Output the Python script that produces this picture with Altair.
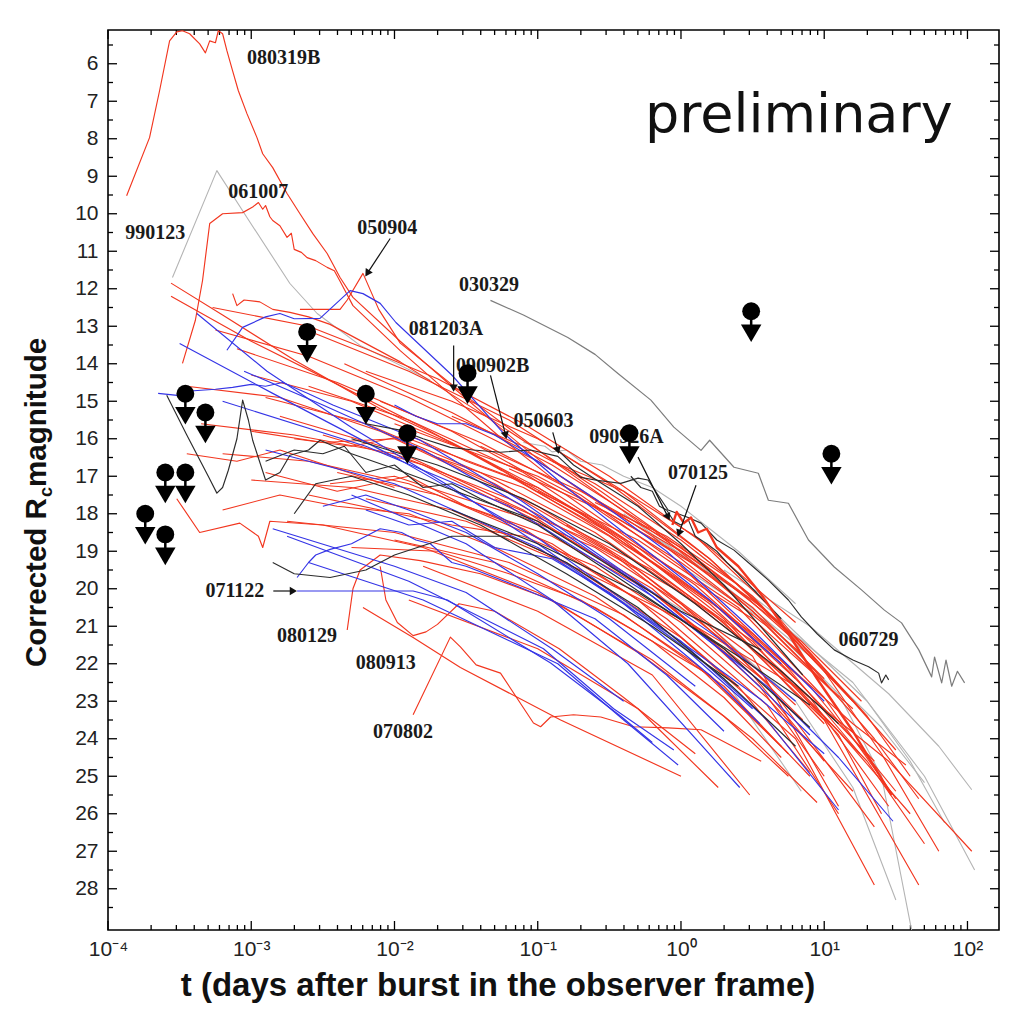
import altair as alt
import pandas as pd

# ---------------- axis tick values ----------------
X_TICK_MAJOR = [1e-4, 1e-3, 1e-2, 1e-1, 1.0, 10.0, 100.0]
X_TICK_MINOR = [k * d for d in X_TICK_MAJOR for k in range(2, 10) if k * d < 166]
Y_TICK_MAJOR = list(range(6, 29))
Y_TICK_MINOR = [v + 0.5 for v in range(5, 29)]

# ---------------- light curves: (log10 t [days], corrected Rc mag) ----------------
# --- red ---
grb080319B = [(-3.87, 9.52), (-3.71, 7.97), (-3.64, 6.72), (-3.57, 5.39), (-3.52, 5.15), (-3.48, 5.12),
              (-3.43, 5.2), (-3.36, 5.47), (-3.32, 5.71), (-3.29, 5.39), (-3.25, 5.44), (-3.23, 5.12),
              (-3.2, 5.2), (-3.17, 5.65), (-3.13, 6.19), (-3.09, 6.72), (-3.03, 7.33), (-2.96, 7.97),
              (-2.92, 8.4), (-2.85, 8.77), (-2.75, 9.46), (-2.66, 10.0), (-2.57, 10.53), (-2.47, 11.06),
              (-2.38, 11.7), (-2.29, 12.23), (-1.96, 13.4), (-1.6, 14.6), (-1.25, 15.75), (-0.9, 16.85),
              (-0.5, 17.9), (0.0, 19.0), (0.45, 20.2), (0.8, 21.4), (1.2, 23.0)]
grb061007 = [(-3.48, 13.99), (-3.39, 12.84), (-3.34, 11.78), (-3.29, 10.26), (-3.2, 10.0), (-3.06, 9.97),
             (-2.99, 9.82), (-2.95, 9.7), (-2.92, 9.88), (-2.9, 9.78), (-2.87, 10.08), (-2.85, 10.18),
             (-2.8, 10.32), (-2.75, 10.63), (-2.72, 10.52), (-2.7, 10.95), (-2.65, 11.03), (-2.61, 11.17),
             (-2.55, 11.25), (-2.47, 11.43), (-2.42, 11.52), (-2.38, 11.8), (-2.29, 12.45), (-1.96, 13.65),
             (-1.6, 14.85), (-1.25, 16.0), (-0.9, 17.05), (-0.5, 18.1), (0.0, 19.3), (0.5, 20.7)]
grb050904 = [(-2.66, 12.55), (-2.38, 12.55), (-2.33, 12.3), (-2.22, 11.59), (-2.11, 12.55), (-1.96, 13.45),
             (-1.47, 14.95), (-0.91, 16.55), (-0.21, 18.45), (0.2, 19.5)]
grb080129 = [(-2.33, 21.1), (-2.29, 20.0), (-2.24, 19.5), (-2.1, 19.1), (-1.82, 19.25), (-1.4, 19.6),
             (-0.9, 20.3), (-0.3, 21.7), (0.3, 23.4), (0.75, 25.0)]
grb080913 = [(-2.1, 19.4), (-2.06, 20.3), (-1.98, 20.9), (-1.87, 21.25), (-1.78, 21.15), (-1.7, 20.95),
             (-1.55, 20.4), (-1.3, 20.6), (-0.85, 21.6), (-0.4, 22.9), (0.1, 24.4)]
grb070802 = [(-1.87, 23.36), (-1.61, 21.29), (-1.54, 21.55), (-1.43, 22.03), (-1.26, 22.25), (-1.03, 23.58),
             (-0.98, 23.68), (-0.91, 23.42), (-0.75, 23.36), (-0.56, 23.42), (-0.33, 23.68), (-0.09, 23.71),
             (0.14, 23.76), (0.56, 24.6)]
grb070125 = [(-0.06, 18.3), (-0.03, 17.95), (0.02, 18.25), (0.07, 18.1), (0.12, 18.5), (0.18, 18.4),
             (0.25, 18.9), (0.4, 19.4), (0.55, 20.1), (0.75, 21.2), (0.95, 22.4), (1.2, 23.8), (1.47, 25.5)]
r01 = [(-3.56, 11.85), (-3.2, 12.7), (-2.7, 13.9), (-2.1, 15.2), (-1.6, 16.1), (-1.0, 17.3), (-0.6, 18.2),
       (0.0, 19.6), (0.5, 20.8), (1.2, 23.2)]
r02 = [(-3.56, 12.2), (-3.0, 13.4), (-2.45, 14.45), (-1.8, 15.7), (-1.25, 16.85), (-0.7, 18.1), (-0.2, 19.3),
       (0.3, 20.6), (0.7, 22.0), (1.35, 24.6)]
r03 = [(-3.13, 12.13), (-3.1, 12.45), (-3.05, 12.3), (-2.94, 12.35), (-2.85, 12.55), (-2.73, 12.63),
       (-2.6, 12.75), (-2.45, 12.95), (-1.96, 13.95), (-1.26, 15.65), (-0.56, 17.4), (0.14, 19.3),
       (0.84, 21.4), (1.26, 23.0)]
r04 = [(-3.25, 13.1), (-2.6, 13.8), (-1.9, 14.9), (-1.0, 16.6), (-0.2, 18.6), (0.6, 21.0), (1.1, 22.9)]
r05 = [(-3.1, 13.6), (-2.4, 14.5), (-1.6, 15.8), (-0.8, 17.5), (0.1, 19.9), (0.9, 22.6), (1.5, 25.4)]
r06 = [(-3.0, 14.3), (-2.3, 15.0), (-1.5, 16.3), (-0.7, 18.0), (0.2, 20.3), (0.8, 22.4)]
r07 = [(-2.9, 14.9), (-2.2, 15.6), (-1.4, 16.9), (-0.6, 18.5), (0.3, 20.9), (1.0, 23.5), (1.66, 27.9)]
r08 = [(-3.35, 15.6), (-2.7, 15.9), (-2.0, 16.4), (-1.2, 17.6), (-0.3, 19.5), (0.5, 21.8), (1.1, 25.8)]
r09 = [(-2.8, 15.4), (-2.0, 16.3), (-1.1, 17.9), (-0.2, 20.1), (0.6, 22.5), (1.35, 26.35)]
r10 = [(-2.6, 14.6), (-1.9, 15.5), (-1.1, 16.9), (-0.3, 18.9), (0.5, 21.2), (1.2, 23.6), (1.57, 24.7)]
r11 = [(-2.5, 15.9), (-1.8, 16.7), (-1.0, 18.2), (-0.2, 20.0), (0.55, 22.6), (1.0, 25.0)]
r12 = [(-3.2, 16.4), (-2.6, 16.6), (-1.9, 17.2), (-1.1, 18.4), (-0.3, 20.3), (0.4, 22.6), (0.9, 24.9)]
r13 = [(-2.4, 16.9), (-1.7, 17.5), (-0.9, 18.8), (-0.1, 20.8), (0.6, 23.1), (1.1, 26.0)]
r14 = [(-3.0, 17.1), (-2.3, 17.3), (-1.6, 17.9), (-0.8, 19.3), (0.0, 21.3), (0.8, 24.0), (1.35, 27.9)]
r15 = [(-2.2, 17.6), (-1.5, 18.2), (-0.7, 19.5), (0.1, 21.0), (0.8, 22.6), (1.45, 24.6), (2.03, 27.0)]
r16 = [(-2.75, 18.2), (-2.0, 18.5), (-1.2, 19.3), (-0.4, 20.7), (0.3, 22.6), (0.9, 25.0)]
r17 = [(-3.52, 17.6), (-3.36, 18.5), (-3.08, 18.25), (-2.95, 18.6), (-2.92, 18.9), (-2.87, 18.2),
       (-2.5, 18.3), (-1.8, 18.9), (-1.0, 20.1), (-0.2, 21.9), (0.5, 24.0), (0.95, 25.7)]
r18 = [(-2.0, 18.7), (-1.3, 19.3), (-0.6, 20.5), (0.2, 22.3), (0.75, 24.4)]
r19 = [(-1.8, 19.4), (-1.0, 20.6), (-0.2, 22.3), (0.48, 25.5)]
r20 = [(-2.22, 20.5), (-1.87, 21.3), (-1.54, 22.1), (-0.84, 23.5), (0.0, 25.0)]
r21 = [(-1.9, 20.3), (-1.0, 21.6), (-0.3, 23.2), (0.26, 25.3)]
r22 = [(-1.4, 16.2), (-0.7, 17.4), (0.0, 18.9), (0.6, 20.6), (1.2, 23.0), (1.5, 24.3)]
r23 = [(-1.2, 16.8), (-0.5, 18.0), (0.2, 19.6), (0.8, 21.6), (1.35, 24.0), (1.66, 25.6)]
r24 = [(-1.0, 17.4), (-0.3, 18.7), (0.4, 20.5), (1.0, 22.9), (1.5, 25.6)]
r25 = [(-0.8, 18.3), (-0.2, 19.5), (0.5, 21.4), (1.1, 23.9), (1.4, 26.0)]
r31 = [(-3.45, 14.6), (-2.8, 14.9), (-2.1, 15.8), (-1.3, 17.2), (-0.5, 19.0), (0.3, 21.4), (0.85, 23.5)]
r32 = [(-2.55, 13.2), (-1.9, 14.2), (-1.2, 15.5), (-0.5, 17.2), (0.2, 19.2), (0.8, 21.3), (1.25, 23.2)]
r33 = [(-2.35, 14.0), (-1.6, 15.3), (-0.9, 16.7), (-0.2, 18.4), (0.5, 20.6), (1.05, 22.7)]
r34 = [(-2.1, 15.0), (-1.4, 16.1), (-0.7, 17.5), (0.0, 19.4), (0.7, 21.9), (1.25, 24.4)]
r35 = [(-1.9, 16.0), (-1.2, 17.0), (-0.5, 18.5), (0.2, 20.4), (0.9, 22.9), (1.45, 25.8)]
r36 = [(-2.9, 16.9), (-2.4, 17.4), (-1.9, 17.0), (-1.5, 17.8), (-0.9, 18.6), (-0.2, 20.1), (0.5, 22.3),
       (1.0, 24.6)]
r37 = [(-3.2, 17.9), (-2.8, 17.5), (-2.4, 17.8), (-1.9, 18.0), (-1.3, 18.9), (-0.6, 20.2), (0.1, 22.0),
       (0.7, 24.2)]
r38 = [(-2.7, 16.0), (-2.3, 16.2), (-1.9, 15.9), (-1.5, 16.6), (-1.0, 17.3), (-0.4, 18.7), (0.3, 20.8),
       (1.0, 23.6)]
r39 = [(-1.7, 16.5), (-1.1, 17.3), (-0.5, 18.6), (0.2, 20.6), (0.8, 22.6), (1.3, 24.6), (1.7, 26.8)]
r40 = [(-1.3, 17.6), (-0.7, 18.6), (0.0, 20.1), (0.6, 21.9), (1.1, 23.8), (1.6, 26.0)]
r41 = [(-3.27, 12.5), (-2.6, 13.0), (-2.2, 13.6), (-1.7, 14.4), (-1.1, 15.6), (-0.5, 17.0), (0.2, 18.9),
       (0.8, 20.9)]
r42 = [(-2.2, 14.2), (-1.6, 15.0), (-1.0, 16.0), (-0.4, 17.4), (0.2, 19.2), (0.7, 21.0)]
r43 = [(-0.9, 16.6), (-0.4, 17.4), (0.1, 18.6), (0.6, 20.4), (1.0, 22.2), (1.4, 24.4), (1.8, 27.0)]
r44 = [(-2.45, 17.2), (-2.0, 17.0), (-1.6, 17.5), (-1.1, 18.1), (-0.6, 18.9), (0.0, 20.4), (0.6, 22.5)]
r45 = [(-3.45, 16.4), (-3.1, 16.6), (-2.8, 16.3), (-2.4, 16.8), (-2.0, 17.3)]
r46 = [(-2.0, 15.6), (-1.5, 16.3), (-1.0, 17.0), (-0.5, 18.0), (0.0, 19.1), (0.5, 20.5), (1.0, 22.4)]
r47 = [(-1.6, 15.4), (-1.1, 16.2), (-0.6, 17.2), (0.0, 18.7), (0.5, 20.2), (0.9, 21.8)]
r48 = [(-2.6, 17.5), (-2.1, 17.9), (-1.6, 18.3), (-1.1, 18.6), (-0.6, 19.4), (0.0, 20.9), (0.6, 22.9),
       (1.2, 25.4)]
r49 = [(-3.0, 15.8), (-2.5, 16.1), (-2.0, 16.0), (-1.5, 16.9), (-1.0, 17.8), (-0.4, 19.2), (0.2, 21.0),
       (0.8, 23.1)]
r50 = [(-0.6, 17.7), (-0.1, 18.6), (0.4, 19.9), (0.9, 21.7), (1.3, 23.4), (1.6, 25.0)]
r51 = [(-2.3, 18.9), (-1.7, 19.0), (-1.2, 19.6), (-0.7, 20.3), (-0.2, 21.4), (0.3, 22.9), (0.7, 24.5)]

# --- blue ---
bA = [(-3.17, 13.64), (-3.06, 13.03), (-2.9, 12.75), (-2.8, 12.66), (-2.7, 12.8), (-2.52, 12.79),
      (-2.31, 12.05), (-2.22, 12.13), (-2.1, 12.39), (-1.99, 12.9), (-1.6, 14.3), (-1.24, 15.85),
      (-0.8, 17.3), (-0.3, 18.8), (0.2, 20.3), (0.7, 22.0)]
bB1 = [(-3.5, 13.46), (-2.85, 14.79), (-1.96, 16.57), (-0.98, 18.7), (-0.21, 20.83), (0.56, 22.96), (1.0, 24.4)]
bB2 = [(-3.65, 14.79), (-3.5, 14.85), (-3.4, 14.72), (-3.25, 14.68), (-3.13, 14.63), (-3.0, 14.55),
       (-2.9, 14.6), (-2.78, 14.5), (-2.6, 14.8), (-2.43, 15.1), (-1.82, 16.04), (-1.12, 17.64),
       (-0.42, 19.5), (0.28, 21.37), (0.8, 23.0)]
bB3 = [(-3.38, 12.66), (-2.89, 14.2), (-2.3, 15.7), (-1.6, 17.3), (-1.0, 18.8), (-0.4, 20.4), (0.2, 22.3),
       (0.55, 23.6)]
grb071122 = [(-2.68, 20.06), (-1.87, 20.06), (-1.63, 20.3), (-0.91, 21.98), (-0.42, 23.4), (-0.2, 24.1)]
bL1 = [(-2.75, 18.6), (-1.9, 19.8), (-0.96, 21.6), (-0.47, 23.2), (-0.05, 24.3)]
bL2 = [(-2.6, 19.3), (-1.8, 20.3), (-0.86, 22.0), (-0.4, 23.5), (-0.02, 24.7)]
bE3 = [(-2.3, 17.5), (-1.5, 18.8), (-0.9, 20.3), (-0.37, 22.0), (0.41, 25.3)]
bE4 = [(-2.9, 16.3), (-2.0, 17.2), (-1.0, 18.9), (0.0, 21.4), (0.6, 23.5), (1.1, 25.9)]
bE5 = [(-3.2, 15.0), (-2.2, 16.2), (-1.2, 17.8), (-0.2, 20.2), (0.6, 22.6), (1.1, 24.5), (1.48, 26.2)]
bJ1 = [(-2.68, 19.7), (-2.6, 19.3), (-2.55, 19.1), (-2.45, 18.95), (-2.3, 18.8), (-2.1, 18.4), (-1.95, 18.5),
       (-1.85, 18.7), (-1.75, 18.8), (-1.6, 19.3), (-1.5, 19.4), (-1.1, 20.0), (-0.6, 20.8), (-0.1, 22.3),
       (0.3, 23.8)]
bJ2 = [(-2.2, 17.9), (-1.9, 18.3), (-1.6, 18.2), (-1.3, 18.9), (-0.9, 19.2), (-0.5, 20.1), (0.0, 21.5), (0.5, 23.2)]
bJ3 = [(-2.0, 15.1), (-1.85, 15.4), (-1.7, 15.6), (-1.5, 15.6), (-1.3, 15.9), (-1.0, 16.6), (-0.6, 17.6),
       (-0.1, 19.0), (0.5, 21.1), (1.0, 23.0)]
bJ4 = [(-2.85, 18.4), (-2.0, 19.4), (-1.5, 20.1), (-0.9, 21.6), (-0.4, 23.0)]
bJ5 = [(-3.05, 14.2), (-2.5, 15.1), (-1.8, 16.3), (-1.1, 17.8), (-0.4, 19.6), (0.3, 21.7), (0.9, 23.9)]
bJ6 = [(-2.5, 17.8), (-2.2, 17.5), (-1.9, 17.9), (-1.5, 18.5), (-1.0, 19.6), (-0.5, 20.8), (0.1, 22.6)]

# --- black / dark grey ---
k1 = [(-3.59, 14.84), (-3.45, 15.9), (-3.3, 17.0), (-3.24, 17.45), (-3.2, 17.3), (-3.16, 16.84), (-3.1, 16.0),
      (-3.06, 14.97), (-3.02, 15.5), (-2.99, 16.04), (-2.9, 17.1), (-2.8, 16.9), (-2.73, 16.44), (-2.6, 16.3),
      (-2.52, 16.04), (-2.3, 16.4), (-2.0, 16.8), (-1.5, 17.5), (-1.0, 18.2), (-0.56, 19.24), (0.0, 20.6),
      (0.56, 21.63)]
grb060729 = [(-2.2, 15.6), (-1.96, 15.77), (-1.8, 16.0), (-1.61, 16.23), (-1.45, 16.3), (-1.26, 16.36),
             (-1.05, 16.3), (-0.86, 16.47), (-0.7, 17.03), (-0.6, 17.1), (-0.42, 17.19), (-0.3, 17.05),
             (-0.23, 17.1), (-0.09, 17.9), (0.05, 18.1), (0.14, 18.25), (0.25, 18.7), (0.37, 18.97), (0.5, 19.4),
             (0.61, 19.77), (0.75, 20.3), (0.84, 20.75), (0.95, 21.2), (1.07, 21.63), (1.2, 21.9), (1.31, 22.08),
             (1.38, 22.25), (1.4, 22.51), (1.43, 22.3), (1.45, 22.43)]
grb050603 = [(-0.86, 16.3), (-0.75, 16.7), (-0.55, 17.2), (-0.3, 17.8), (0.0, 18.8), (0.3, 19.9), (0.6, 21.2),
             (0.85, 22.3)]
grb090926A = [(-0.35, 17.0), (-0.28, 17.3), (-0.2, 17.4), (-0.15, 17.8), (-0.1, 17.9), (-0.05, 18.2), (0.0, 18.3),
              (0.05, 18.15), (0.1, 18.6), (0.18, 18.8), (0.25, 19.0), (0.32, 19.3), (0.4, 19.6), (0.55, 20.2),
              (0.7, 20.8)]
k2 = [(-2.9, 16.6), (-2.7, 16.3), (-2.5, 16.4), (-2.35, 16.2), (-2.2, 16.9), (-2.0, 16.7), (-1.8, 17.3),
      (-1.6, 17.2), (-1.4, 17.6), (-1.0, 18.3), (-0.4, 19.8), (0.3, 21.6), (0.9, 23.7)]
k3 = [(-2.85, 19.3), (-2.7, 19.6), (-2.45, 19.7), (-2.2, 19.5), (-2.0, 19.1), (-1.6, 18.6), (-1.2, 18.6),
      (-0.8, 19.3), (-0.3, 20.5), (0.3, 22.4), (0.8, 24.2)]
k4 = [(-2.7, 18.0), (-2.55, 17.2), (-2.3, 17.0), (-1.9, 17.5), (-1.4, 18.3), (-0.8, 19.6), (-0.2, 21.0), (0.4, 22.6)]
k5 = [(-2.3, 16.0), (-1.7, 16.7), (-1.1, 17.6), (-0.5, 18.8), (0.1, 20.4), (0.7, 22.2), (1.1, 23.6)]
k6 = [(-1.6, 17.9), (-1.0, 18.8), (-0.3, 20.1), (0.4, 21.8), (0.9, 23.1)]

# --- grey ---
grb990123 = [(-3.55, 11.7), (-3.24, 8.85), (-3.03, 10.1), (-2.73, 11.86), (-2.54, 12.66), (-2.24, 13.51),
             (-1.75, 14.44)]
grb030329 = [(-1.33, 12.31), (-1.1, 12.7), (-0.79, 13.3), (-0.6, 13.75), (-0.44, 14.26), (-0.21, 14.97),
             (-0.05, 15.69), (0.14, 16.31), (0.2, 16.04), (0.37, 16.76), (0.54, 16.92), (0.61, 17.64),
             (0.75, 17.72), (0.89, 18.7), (1.07, 19.42), (1.26, 20.03), (1.42, 20.57), (1.54, 20.91),
             (1.66, 21.63), (1.75, 22.35), (1.77, 21.82), (1.82, 22.51), (1.85, 21.9), (1.89, 22.6),
             (1.93, 22.2), (1.98, 22.51)]
g1 = [(-0.5, 19.4), (0.2, 21.0), (0.8, 23.0), (1.2, 25.3), (1.5, 28.3)]
g2 = [(0.0, 19.4), (0.6, 20.9), (1.1, 22.8), (1.4, 25.0), (1.62, 29.3)]
g3 = [(-0.2, 18.6), (0.5, 20.3), (1.2, 22.5), (1.7, 25.0), (2.05, 27.5)]
g4 = [(0.3, 19.5), (0.9, 21.0), (1.45, 22.8), (1.8, 24.2), (2.03, 25.36)]
g5 = [(0.1, 19.0), (0.7, 20.8), (1.3, 23.0), (1.6, 24.6), (1.84, 26.24)]
g6 = [(-0.4, 18.0), (0.3, 19.9), (0.9, 21.8), (1.4, 23.7), (1.7, 25.17)]
g7 = [(-1.0, 18.9), (-0.3, 20.6), (0.3, 22.4), (0.84, 25.4)]
g8 = [(-1.1, 16.1), (-0.95, 16.2), (-0.9, 16.35), (-0.8, 16.3), (-0.7, 16.6), (-0.55, 16.7), (-0.4, 17.0),
      (-0.2, 17.3), (0.0, 17.8), (0.4, 19.0), (0.8, 20.4)]

RED_CURVES = [grb080319B, grb061007, grb050904, grb080129, grb080913, grb070802,
              r01, r02, r03, r04, r05, r06, r07, r08, r09, r10, r11, r12, r13, r14, r15, r16, r17,
              r18, r19, r20, r21, r22, r23, r24, r25, r31, r32, r33, r34, r35, r36, r37, r38, r39,
              r40, r41, r42, r43, r44, r45, r46, r47, r48, r49, r50, r51]
THICK_RED_CURVES = [grb070125]
BLUE_CURVES = [bA, bB1, bB2, bB3, grb071122, bL1, bL2, bE3, bE4, bE5, bJ1, bJ2, bJ3, bJ4, bJ5, bJ6]
BLACK_CURVES = [k1, grb060729, grb050603, grb090926A, k2, k3, k4, k5, k6]
LIGHT_GREY_CURVES = [grb990123, g1, g2, g3, g4, g5, g6, g7, g8]
MID_GREY_CURVES = [grb030329]

# ---------------- upper limits ----------------
UL_LOGT = [-3.74, -3.60, -3.60, -3.46, -3.46, -3.32, -2.61, -2.20, -1.91, -1.49, -0.36, 0.49, 1.05]
UL_MAG = [18.0, 18.55, 16.9, 16.9, 14.8, 15.3, 13.15, 14.8, 15.85, 14.25, 15.85, 12.6, 16.4]

# ---------------- GRB labels ----------------
LABEL_TEXT = ["080319B", "061007", "990123", "050904", "030329", "081203A", "090902B", "050603",
              "090926A", "070125", "060729", "071122", "080129", "080913", "070802"]
LABEL_LOGT = [-3.03, -3.16, -3.88, -2.26, -1.55, -1.90, -1.57, -1.17, -0.64, -0.09, 1.10, -3.32, -2.82,
              -2.27, -2.15]
LABEL_MAG = [5.85, 9.41, 10.5, 10.37, 11.89, 13.08, 14.07, 15.53, 15.96, 16.92, 21.37, 20.06, 21.26,
             21.98, 23.82]

# ---------------- label arrows ----------------
ARROW_LOGT0 = [-2.03, -1.587, -1.33, -0.895, -0.30, 0.105, -2.846]
ARROW_MAG0 = [10.66, 13.51, 14.31, 15.83, 16.49, 17.24, 20.06]
ARROW_LOGT1 = [-2.19, -1.587, -1.224, -0.86, -0.09, -0.014, -2.706]
ARROW_MAG1 = [11.59, 14.65, 15.91, 16.31, 18.09, 18.52, 20.06]
ARROW_ANGLE = [213, 180, 166, 164, 153, 200, 90]


def curves_df(curves, prefix):
    rows = []
    for i, c in enumerate(curves):
        for j, (lt, m) in enumerate(c):
            rows.append({"cid": f"{prefix}{i}", "k": j, "t": 10 ** lt, "mag": m})
    return pd.DataFrame(rows)


W, H = 891, 900
xscale = alt.Scale(type="log", domain=[1e-4, 166], nice=False)
yscale = alt.Scale(domain=[5.1, 29.1], reverse=True, nice=False, zero=False)

label_expr = ("datum.value < 0.0005 ? '10⁻⁴' : datum.value < 0.005 ? '10⁻³' : "
              "datum.value < 0.05 ? '10⁻²' : datum.value < 0.5 ? '10⁻¹' : "
              "datum.value < 5 ? '10⁰' : datum.value < 50 ? '10¹' : '10²'")
x_axis = alt.Axis(values=X_TICK_MAJOR, labelExpr=label_expr, ticks=False, tickSize=0, domain=False,
                  grid=False, labelFont="Liberation Sans", labelFontSize=21, labelColor="#222",
                  labelPadding=8, labelFlush=False, labelOverlap=False, title=None)
y_axis = alt.Axis(values=Y_TICK_MAJOR, ticks=False, tickSize=0, domain=False, grid=False,
                  labelFont="Liberation Sans", labelFontSize=21, labelColor="#222", labelPadding=10,
                  labelFlush=False, labelOverlap=False, title=None)


def X(field="t"):
    return alt.X(f"{field}:Q", scale=xscale, axis=x_axis)


def Y(field="mag"):
    return alt.Y(f"{field}:Q", scale=yscale, axis=y_axis)


def curve_layer(curves, prefix, color, width):
    return alt.Chart(curves_df(curves, prefix)).mark_line(
        color=color, strokeWidth=width, clip=True, strokeJoin="round"
    ).encode(x=X(), y=Y(), detail="cid:N", order="k:Q")


layers = []

# ticks (inward, all four sides)
xt_major = pd.DataFrame({"t": X_TICK_MAJOR})
xt_minor = pd.DataFrame({"t": X_TICK_MINOR})
yt_major = pd.DataFrame({"mag": Y_TICK_MAJOR})
yt_minor = pd.DataFrame({"mag": Y_TICK_MINOR})
for df, ln in [(xt_major, 9), (xt_minor, 5)]:
    layers.append(alt.Chart(df).mark_rule(color="black", strokeWidth=1.3).encode(
        x=X(), y=alt.value(H), y2=alt.value(H - ln)))
    layers.append(alt.Chart(df).mark_rule(color="black", strokeWidth=1.3).encode(
        x=X(), y=alt.value(0), y2=alt.value(ln)))
for df, ln in [(yt_major, 9), (yt_minor, 5)]:
    layers.append(alt.Chart(df).mark_rule(color="black", strokeWidth=1.3).encode(
        y=Y(), x=alt.value(0), x2=alt.value(ln)))
    layers.append(alt.Chart(df).mark_rule(color="black", strokeWidth=1.3).encode(
        y=Y(), x=alt.value(W), x2=alt.value(W - ln)))

# light curves
layers.append(curve_layer(LIGHT_GREY_CURVES, "g", "#b4b4b4", 1.1))
layers.append(curve_layer(MID_GREY_CURVES, "m", "#7d7d7d", 1.2))
layers.append(curve_layer(RED_CURVES, "r", "#f2361f", 1.15))
layers.append(curve_layer(BLUE_CURVES, "b", "#3434e6", 1.15))
layers.append(curve_layer(BLACK_CURVES, "k", "#2c2c2c", 1.15))
layers.append(curve_layer(THICK_RED_CURVES, "R", "#f2361f", 2.4))

# labels
lab = pd.DataFrame({"text": LABEL_TEXT, "t": [10 ** v for v in LABEL_LOGT], "mag": LABEL_MAG})
layers.append(alt.Chart(lab).mark_text(font="Liberation Serif", fontWeight="bold", fontSize=20,
                                       align="left", baseline="middle", color="#1a1a1a").encode(
    x=X(), y=Y(), text="text:N"))

# arrows
arr = pd.DataFrame({"t0": [10 ** v for v in ARROW_LOGT0], "m0": ARROW_MAG0,
                    "t1": [10 ** v for v in ARROW_LOGT1], "m1": ARROW_MAG1, "ang": ARROW_ANGLE})
layers.append(alt.Chart(arr).mark_rule(color="#111", strokeWidth=1.2).encode(
    x=X("t0"), x2="t1:Q", y=Y("m0"), y2="m1:Q"))
layers.append(alt.Chart(arr).mark_point(shape="triangle-up", filled=True, size=70, opacity=1,
                                        color="#111").encode(
    x=X("t1"), y=Y("m1"), angle=alt.Angle("ang:Q", scale=None)))

# upper limits
ul = pd.DataFrame({"t": [10 ** v for v in UL_LOGT], "mag": UL_MAG})
layers.append(alt.Chart(ul).mark_rule(color="black", strokeWidth=2.5, yOffset=6, y2Offset=16).encode(
    x=X(), y=Y(), y2="mag:Q"))
layers.append(alt.Chart(ul).mark_point(shape="circle", filled=True, size=320, opacity=1,
                                       color="black").encode(x=X(), y=Y()))
layers.append(alt.Chart(ul).mark_point(shape="triangle-down", filled=True, size=420, opacity=1,
                                       color="black", yOffset=22).encode(x=X(), y=Y()))

# axis titles (y title has a subscript, so it is assembled from text pieces)
one = pd.DataFrame({"a": [0]})
TITLE_FONT = "Liberation Sans"
layers.append(alt.Chart(one).mark_text(font=TITLE_FONT, fontWeight="bold", fontSize=29.5, angle=270,
                                       align="left", baseline="alphabetic", color="#111").encode(
    x=alt.value(-62), y=alt.value(637), text=alt.value("Corrected R")))
layers.append(alt.Chart(one).mark_text(font=TITLE_FONT, fontWeight="bold", fontSize=18, angle=270,
                                       align="left", baseline="alphabetic", color="#111", dy=6).encode(
    x=alt.value(-62), y=alt.value(467), text=alt.value("c")))
layers.append(alt.Chart(one).mark_text(font=TITLE_FONT, fontWeight="bold", fontSize=29.5, angle=270,
                                       align="left", baseline="alphabetic", color="#111").encode(
    x=alt.value(-62), y=alt.value(457), text=alt.value(" magnitude")))
layers.append(alt.Chart(one).mark_text(font=TITLE_FONT, fontWeight="bold", fontSize=33, align="center",
                                       baseline="alphabetic", color="#111").encode(
    x=alt.value(390), y=alt.value(966), text=alt.value("t (days after burst in the observer frame)")))

# "preliminary" stamp
layers.append(alt.Chart(one).mark_text(font="DejaVu Sans", fontSize=54, align="left",
                                       baseline="alphabetic", color="#111").encode(
    x=alt.value(537), y=alt.value(102), text=alt.value("preliminary")))

chart = alt.layer(*layers).properties(
    width=W, height=H,
    padding={"left": 100, "top": 22, "right": 6, "bottom": 84},
    autosize=alt.AutoSizeParams(type="none"),
    background="white",
).configure_view(stroke="black", strokeWidth=1.6)

chart.save("out.html", embed_options={"renderer": "svg", "actions": False})
